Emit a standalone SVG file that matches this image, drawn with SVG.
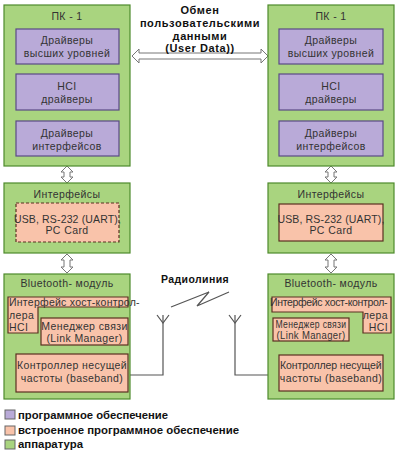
<svg xmlns="http://www.w3.org/2000/svg" width="400" height="455" viewBox="0 0 400 455">
<style>
text{font-family:"Liberation Sans",Arial,sans-serif;font-size:10.5px;fill:#333;letter-spacing:0.4px;}
.c{text-anchor:middle;}
.b{font-weight:bold;fill:#111;}
.hw{fill:#a9d47f;stroke:#4e8a2c;stroke-width:1.2;}
.sw{fill:#b9aad8;stroke:#5a4a86;stroke-width:1.2;}
.fw{fill:#f9c3aa;stroke:#5a3020;stroke-width:1.2;}
.ln{stroke:#3f6a25;stroke-width:1.2;fill:none;}
.ar{fill:#fff;stroke:#777;stroke-width:1;}
.wire{stroke:#555;stroke-width:1.2;fill:none;}
.ud{font-size:11px;letter-spacing:0.6px;}
.lg{font-size:10.5px;letter-spacing:0;}
.usb{letter-spacing:0.15px;}
</style>
<rect width="400" height="455" fill="#fff"/>

<g id="connectors">
  <line class="ln" x1="67" y1="64" x2="67" y2="74"/>
  <line class="ln" x1="67" y1="110" x2="67" y2="121"/>
  <line class="ln" x1="67" y1="156" x2="67" y2="166"/>
  <line class="ln" x1="331" y1="64" x2="331" y2="74"/>
  <line class="ln" x1="331" y1="110" x2="331" y2="121"/>
  <line class="ln" x1="331" y1="156" x2="331" y2="166"/>
  <line class="ln" x1="23" y1="333" x2="23" y2="354"/>
  <line class="ln" x1="86" y1="307" x2="86" y2="318"/>
  <line class="ln" x1="86" y1="345" x2="86" y2="354"/>
  <line class="ln" x1="313" y1="312" x2="313" y2="318"/>
  <line class="ln" x1="313" y1="341" x2="313" y2="355"/>
  <line class="ln" x1="375" y1="333" x2="375" y2="355"/>
  <path class="ar" d="M132,56 L139,49 L139,53 L261,53 L261,49 L268,56 L261,63 L261,59 L139,59 L139,63 Z"/>
  <path class="ar" d="M67,166 L73,172 L70,172 L70,177 L73,177 L67,183 L61,177 L64,177 L64,172 L61,172 Z"/>
  <path class="ar" d="M67,254 L73,260 L70,260 L70,267 L73,267 L67,273 L61,267 L64,267 L64,260 L61,260 Z"/>
  <path class="ar" d="M331,166 L337,172 L334,172 L334,177 L337,177 L331,183 L325,177 L328,177 L328,172 L325,172 Z"/>
  <path class="ar" d="M331,254 L337,260 L334,260 L334,267 L337,267 L331,273 L325,267 L328,267 L328,260 L325,260 Z"/>
  <polyline class="wire" points="130,375 163,375 163,315"/>
  <polyline class="wire" points="157,315 163,323 169,315"/>
  <polyline class="wire" points="268,375 235,375 235,315"/>
  <polyline class="wire" points="229,315 235,323 241,315"/>
  <polyline class="wire" points="171,307 209,292 197,306 229,292" stroke-width="1"/>
</g>

<g id="pc-left">
  <rect class="hw" x="4" y="5" width="126" height="161"/>
  <text class="c" x="67" y="20">ПК - 1</text>
</g>
<g id="drv-high-left">
  <rect class="sw" x="16" y="29" width="103" height="35"/>
  <text class="c" x="67" y="44">Драйверы</text>
  <text class="c" x="67" y="57">высших уровней</text>
</g>
<g id="hci-left">
  <rect class="sw" x="16" y="74" width="103" height="36"/>
  <text class="c" x="67" y="90">HCI</text>
  <text class="c" x="67" y="103">драйверы</text>
</g>
<g id="drv-if-left">
  <rect class="sw" x="16" y="121" width="103" height="35"/>
  <text class="c" x="67" y="137">Драйверы</text>
  <text class="c" x="67" y="150">интерфейсов</text>
</g>

<g id="pc-right">
  <rect class="hw" x="268" y="5" width="126" height="161"/>
  <text class="c" x="331" y="20">ПК - 1</text>
</g>
<g id="drv-high-right">
  <rect class="sw" x="279" y="29" width="104" height="35"/>
  <text class="c" x="331" y="44">Драйверы</text>
  <text class="c" x="331" y="57">высших уровней</text>
</g>
<g id="hci-right">
  <rect class="sw" x="279" y="74" width="104" height="36"/>
  <text class="c" x="331" y="90">HCI</text>
  <text class="c" x="331" y="103">драйверы</text>
</g>
<g id="drv-if-right">
  <rect class="sw" x="279" y="121" width="104" height="35"/>
  <text class="c" x="331" y="137">Драйверы</text>
  <text class="c" x="331" y="150">интерфейсов</text>
</g>

<g id="user-data-label">
  <text class="c b ud" x="200" y="14">Обмен</text>
  <text class="c b ud" x="200" y="27">пользовательскими</text>
  <text class="c b ud" x="200" y="40">данными</text>
  <text class="c b ud" x="200" y="52">(User Data))</text>
</g>

<g id="if-left">
  <rect class="hw" x="4" y="183" width="126" height="70"/>
  <text class="c" x="67" y="198">Интерфейсы</text>
</g>
<g id="usb-left">
  <rect class="fw" x="16" y="203" width="103" height="39" stroke-dasharray="3,2"/>
  <text class="c usb" x="67.5" y="223">USB, RS-232 (UART),</text>
  <text class="c" x="67" y="234">PC Card</text>
</g>
<g id="if-right">
  <rect class="hw" x="268" y="183" width="126" height="70"/>
  <text class="c" x="331" y="198">Интерфейсы</text>
</g>
<g id="usb-right">
  <rect class="fw" x="279" y="204" width="104" height="37"/>
  <text class="c usb" x="331" y="223">USB, RS-232 (UART),</text>
  <text class="c" x="331" y="234">PC Card</text>
</g>

<g id="radio-label">
  <text class="c b" x="195" y="283" font-size="12">Радиолиния</text>
</g>

<g id="bt-left">
  <rect class="hw" x="4" y="274" width="126" height="125"/>
  <text class="c" x="67" y="287">Bluetooth- модуль</text>
</g>
<g id="hcictl-left">
  <path class="fw" d="M8,297 H128 V307 H38 V333 H8 Z"/>
  <text x="9" y="306" textLength="131" lengthAdjust="spacing">Интерфейс хост-контрол-</text>
  <text x="9" y="319">лера</text>
  <text x="9" y="331">HCI</text>
</g>
<g id="lm-left">
  <rect class="fw" x="41" y="318" width="87" height="27"/>
  <text class="c" x="84.5" y="330">Менеджер связи</text>
  <text class="c" x="84.5" y="342">(Link Manager)</text>
</g>
<g id="bb-left">
  <rect class="fw" x="16" y="354" width="112" height="38"/>
  <text x="17" y="369" textLength="110" lengthAdjust="spacing">Контроллер несущей</text>
  <text class="c" x="72" y="382">частоты (baseband)</text>
</g>

<g id="bt-right">
  <rect class="hw" x="268" y="274" width="126" height="125"/>
  <text class="c" x="331" y="287">Bluetooth- модуль</text>
</g>
<g id="hcictl-right">
  <path class="fw" d="M272,297 H391 V333 H363 V312 H272 Z"/>
  <text x="270" y="306" textLength="118" lengthAdjust="spacing">Интерфейс хост-контрол-</text>
  <text x="388" y="319" text-anchor="end">лера</text>
  <text x="388" y="331" text-anchor="end">HCI</text>
</g>
<g id="lm-right">
  <rect class="fw" x="273" y="318" width="76" height="23"/>
  <text class="c" x="311" y="328" textLength="71" lengthAdjust="spacingAndGlyphs">Менеджер связи</text>
  <text class="c" x="311" y="339" textLength="69" lengthAdjust="spacingAndGlyphs">(Link Manager)</text>
</g>
<g id="bb-right">
  <rect class="fw" x="279" y="355" width="104" height="36"/>
  <text x="280" y="369" textLength="102" lengthAdjust="spacing">Контроллер несущей</text>
  <text class="c" x="331" y="382">частоты (baseband)</text>
</g>

<g id="legend">
  <rect x="5" y="410" width="10" height="9" fill="#b9aad8" stroke="#666"/>
  <text class="b lg" x="18" y="419" textLength="150" lengthAdjust="spacingAndGlyphs">программное обеспечение</text>
  <rect x="5" y="426" width="10" height="9" fill="#f9c3aa" stroke="#666"/>
  <text class="b lg" x="18" y="434" textLength="221" lengthAdjust="spacingAndGlyphs">встроенное программное обеспечение</text>
  <rect x="5" y="440" width="10" height="9" fill="#a9d47f" stroke="#666"/>
  <text class="b lg" x="18" y="448" textLength="65" lengthAdjust="spacingAndGlyphs">аппаратура</text>
</g>
</svg>
